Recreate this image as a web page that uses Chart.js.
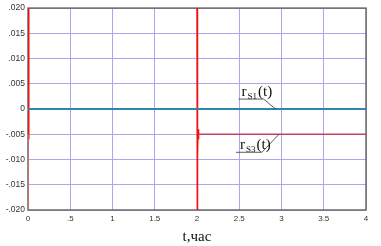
<!DOCTYPE html>
<html>
<head>
<meta charset="utf-8">
<script src="https://cdn.jsdelivr.net/npm/chart.js@4"></script>
<style>
  html, body { margin: 0; padding: 0; background: #fff; }
  #wrap { width: 381px; height: 246px; }
</style>
</head>
<body>
<div id="wrap"><canvas id="chart" width="381" height="246"></canvas></div>
<script>
// time axis (hours) and responses
const tS1 = [0, 4];
const rS1 = [0, 0];

const tS3 = [2.02, 4];
const rS3 = [-0.005, -0.005];

// switching transients at t=0 and t=2 (clipped by the axis range)
const tSpike0 = [0, 0.002, 0.004, 0.006, 0.008, 0.01];
const spike0 = [0.03, -0.006, 0.001, -0.005, 0.001, 0];
const tTail0 = [0.001, 0.001];
const tail0 = [-0.005, -0.03];

const tSpike2 = [2, 2.002, 2.004, 2.006, 2.009, 2.012, 2.016, 2.02];
const spike2 = [0.03, -0.03, -0.011, -0.003, -0.009, -0.004, -0.006, -0.005];

const xTicks = [0, 0.5, 1, 1.5, 2, 2.5, 3, 3.5, 4];
const yTicks = [-0.02, -0.015, -0.01, -0.005, 0, 0.005, 0.01, 0.015, 0.02];

function pts(xs, ys) {
    return xs.map((x, i) => ({ x: x, y: ys[i] }));
}

function fmt(v) {
    if (Math.abs(v) < 1e-9) return '0';
    let s = Math.abs(v).toFixed(v % 1 === 0 ? 0 : (Math.abs(v) < 0.1 ? 3 : 1)).replace(/^0\./, '.');
    return (v < 0 ? '-' : '') + s;
}

const frame = {
    id: 'frame',
    beforeDatasetsDraw(chart) {
        const a = chart.chartArea, c = chart.ctx;
        c.save();
        c.strokeStyle = '#6a6a6a';
        c.lineWidth = 1.5;
        c.strokeRect(a.left, a.top, a.right - a.left, a.bottom - a.top);
        c.restore();
    }
};

function drawLabel(c, x, y, sub) {
    c.fillStyle = '#111';
    c.font = '15px "Liberation Serif"';
    c.fillText('r', x, y);
    let w = c.measureText('r').width;
    c.font = '9px "Liberation Serif"';
    c.fillText(sub, x + w + 1, y + 3);
    let w2 = c.measureText(sub).width;
    c.font = '15px "Liberation Serif"';
    c.fillText('(t)', x + w + w2 + 2, y);
}

const labels = {
    id: 'labels',
    afterDatasetsDraw(chart) {
        const xs = chart.scales.x, ys = chart.scales.y, c = chart.ctx;
        c.save();
        c.strokeStyle = '#333';
        c.lineWidth = 0.8;

        // r_S1 leader
        let ex = xs.getPixelForValue(2.93), ey = ys.getPixelForValue(0);
        c.beginPath();
        c.moveTo(ex, ey);
        c.lineTo(ex - 12, ey - 10);
        c.lineTo(ex - 37, ey - 10);
        c.stroke();
        drawLabel(c, ex - 34, ey - 13, 'S1');

        // r_S3 leader
        ex = xs.getPixelForValue(2.97); ey = ys.getPixelForValue(-0.005);
        c.beginPath();
        c.moveTo(ex, ey);
        c.lineTo(ex - 17, ey + 18);
        c.lineTo(ex - 43, ey + 18);
        c.stroke();
        drawLabel(c, ex - 39, ey + 15, 'S3');
        c.restore();
    }
};

new Chart(document.getElementById('chart'), {
    type: 'line',
    data: {
        datasets: [
            { data: pts(tS1, rS1), borderColor: '#2f86a6', borderWidth: 2 },
            { data: pts(tS3, rS3), borderColor: '#c2426e', borderWidth: 1.5 },
            { data: pts(tTail0, tail0), borderColor: '#f46060', borderWidth: 1.2 },
            { data: pts(tSpike0, spike0), borderColor: '#f01010', borderWidth: 2 },
            { data: pts(tSpike2, spike2), borderColor: '#f01010', borderWidth: 1.6 }
        ]
    },
    options: {
        responsive: false,
        animation: false,
        events: [],
        elements: { point: { radius: 0 }, line: { tension: 0 } },
        layout: { padding: { top: 7, right: 15, left: 0, bottom: 0 } },
        plugins: { legend: { display: false }, tooltip: { enabled: false } },
        scales: {
            x: {
                type: 'linear', min: 0, max: 4,
                afterBuildTicks: s => { s.ticks = xTicks.map(v => ({ value: v })); },
                afterFit: s => { s.height = 36; },
                grid: { color: '#a8a8ee', lineWidth: 1, drawTicks: false },
                border: { display: false },
                ticks: {
                    padding: 4, color: '#333', maxRotation: 0,
                    font: { family: 'Liberation Sans', size: 8 },
                    callback: v => fmt(v)
                },
                title: {
                    display: true, text: 't,час', color: '#111',
                    font: { family: 'Liberation Serif', size: 15 },
                    padding: { top: 3, bottom: 0 }
                }
            },
            y: {
                type: 'linear', min: -0.02, max: 0.02,
                afterBuildTicks: s => { s.ticks = yTicks.map(v => ({ value: v })); },
                afterFit: s => { s.width = 28; },
                grid: { color: '#a8a8ee', lineWidth: 1, drawTicks: false },
                border: { display: false },
                ticks: {
                    padding: 3, color: '#333',
                    font: { family: 'Liberation Sans', size: 8.5 },
                    callback: v => fmt(v)
                }
            }
        }
    },
    plugins: [frame, labels]
});
</script>
</body>
</html>
